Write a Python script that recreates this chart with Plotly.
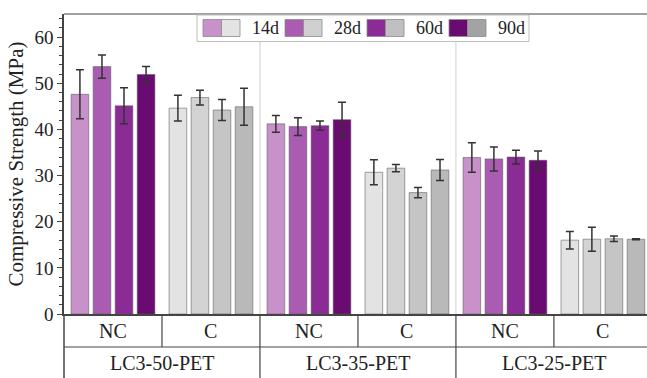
import plotly.graph_objects as go

# ---------------- data ----------------
ages = ["14d", "28d", "60d", "90d"]
groups = ["LC3-50-PET", "LC3-35-PET", "LC3-25-PET"]
conds = ["NC", "C"]

nc_mean = {
    "14d": [47.6, 41.2, 33.9],
    "28d": [53.6, 40.6, 33.6],
    "60d": [45.1, 40.8, 34.0],
    "90d": [51.9, 42.1, 33.3],
}
nc_err = {
    "14d": [5.3, 1.8, 3.2],
    "28d": [2.5, 1.9, 2.6],
    "60d": [3.9, 1.0, 1.5],
    "90d": [1.7, 3.8, 2.0],
}
c_mean = {
    "14d": [44.6, 30.7, 16.0],
    "28d": [46.9, 31.6, 16.2],
    "60d": [44.2, 26.3, 16.3],
    "90d": [44.9, 31.2, 16.2],
}
c_err = {
    "14d": [2.8, 2.7, 1.9],
    "28d": [1.6, 0.8, 2.6],
    "60d": [2.3, 1.1, 0.6],
    "90d": [4.0, 2.3, 0.1],
}

y_ticks = [0, 10, 20, 30, 40, 50, 60]

# ---------------- styles ----------------
purple = {"14d": "#c891c9", "28d": "#a95cb2", "60d": "#8a2b96", "90d": "#690b70"}
gray = {"14d": "#e3e3e3", "28d": "#d3d3d3", "60d": "#c5c5c5", "90d": "#b9b9b9"}
legend_gray = {"14d": "#e3e3e3", "28d": "#d0d0d0", "60d": "#c0c0c0", "90d": "#a3a3a3"}
FONT = "'Liberation Serif', 'Times New Roman', 'DejaVu Serif', serif"
TXT = "#222222"
LINE = "#444444"

nc_cats = [g + "|NC" for g in groups]
c_cats = [g + "|C" for g in groups]
all_cats = []
for g in groups:
    all_cats += [g + "|NC", g + "|C"]

fig = go.Figure()
for a in ages:
    fig.add_trace(go.Bar(
        x=nc_cats, y=nc_mean[a], offsetgroup=a, showlegend=False,
        marker=dict(color=purple[a], line=dict(color="rgba(90,90,90,0.55)", width=1)),
        error_y=dict(type="data", array=nc_err[a], color="#333333", thickness=1.5, width=4),
    ))
    fig.add_trace(go.Bar(
        x=c_cats, y=c_mean[a], offsetgroup=a, showlegend=False,
        marker=dict(color=gray[a], line=dict(color="rgba(90,90,90,0.55)", width=1)),
        error_y=dict(type="data", array=c_err[a], color="#333333", thickness=1.5, width=4),
    ))

W, H = 647, 378
ML, MR, MT, MB = 64, 0, 14, 64
PW, PH = W - ML - MR, H - MT - MB


def px2paper_x(px):
    return (px - ML) / PW


def px2paper_y(py):
    return (H - MB - py) / PH


shapes = []
# separators in plot area between groups (light)
for i in range(1, len(groups)):
    xs = 2 * i - 0.5
    shapes.append(dict(type="line", xref="x", yref="paper", x0=xs, x1=xs, y0=0, y1=1,
                       line=dict(color="#cfcfcf", width=1), layer="below"))
# top frame
shapes.append(dict(type="line", xref="paper", yref="paper", x0=0, x1=1, y0=1, y1=1,
                   line=dict(color=LINE, width=1.2)))

# table below axis
row1 = -33 / PH
row2 = -64 / PH
shapes.append(dict(type="line", xref="paper", yref="paper", x0=0, x1=1, y0=row1, y1=row1,
                   line=dict(color=LINE, width=1.2)))
shapes.append(dict(type="line", xref="paper", yref="paper", x0=0, x1=0, y0=0, y1=row2,
                   line=dict(color=LINE, width=1.5)))
for k in range(1, 2 * len(groups)):
    xs = k - 0.5
    y_end = row2 if k % 2 == 0 else row1
    shapes.append(dict(type="line", xref="x", yref="paper", x0=xs, x1=xs, y0=0, y1=y_end,
                       line=dict(color=LINE, width=1.2)))

annotations = []
for gi, g in enumerate(groups):
    for ci, c in enumerate(conds):
        annotations.append(dict(x=2 * gi + ci, y=(0 + row1) / 2, xref="x", yref="paper",
                                text=c, showarrow=False, font=dict(family=FONT, size=20, color=TXT),
                                yanchor="middle"))
    annotations.append(dict(x=2 * gi + 0.5, y=(row1 + row2) / 2, xref="x", yref="paper",
                            text=g, showarrow=False, font=dict(family=FONT, size=20, color=TXT),
                            yanchor="middle"))

# manual legend (paired swatches)
lb_x0, lb_x1, lb_y0, lb_y1 = 197, 529, 15, 41.5
shapes.append(dict(type="rect", xref="paper", yref="paper",
                   x0=px2paper_x(lb_x0), x1=px2paper_x(lb_x1),
                   y0=px2paper_y(lb_y1), y1=px2paper_y(lb_y0),
                   fillcolor="white", line=dict(color="#bdbdbd", width=1)))
sw_top, sw_bot, sw_w = 19.5, 36.5, 18.5
for i, a in enumerate(ages):
    x0 = 203 + 82 * i
    shapes.append(dict(type="rect", xref="paper", yref="paper",
                       x0=px2paper_x(x0), x1=px2paper_x(x0 + sw_w),
                       y0=px2paper_y(sw_bot), y1=px2paper_y(sw_top),
                       fillcolor=purple[a], line=dict(color="#8a8a8a", width=0.8)))
    shapes.append(dict(type="rect", xref="paper", yref="paper",
                       x0=px2paper_x(x0 + sw_w), x1=px2paper_x(x0 + 2 * sw_w),
                       y0=px2paper_y(sw_bot), y1=px2paper_y(sw_top),
                       fillcolor=legend_gray[a], line=dict(color="#8a8a8a", width=0.8)))
    annotations.append(dict(x=px2paper_x(x0 + 47), y=px2paper_y(28), xref="paper", yref="paper",
                            text=a, showarrow=False, xanchor="left", yanchor="middle",
                            font=dict(family=FONT, size=18, color=TXT)))

fig.update_layout(
    width=W, height=H,
    margin=dict(l=ML, r=MR, t=MT, b=MB),
    paper_bgcolor="white", plot_bgcolor="white",
    barmode="group", bargap=0.10, bargroupgap=0.2,
    shapes=shapes, annotations=annotations,
    showlegend=False,
    font=dict(family=FONT, color=TXT),
)
fig.update_xaxes(type="category", categoryorder="array", categoryarray=all_cats,
                 range=[-0.5, 5.45], showticklabels=False, ticks="", showgrid=False,
                 zeroline=False, showline=True, linecolor=LINE, linewidth=1.5)
fig.update_yaxes(range=[0, 65], tickvals=y_ticks, ticks="outside", ticklen=5,
                 tickwidth=1.2, tickcolor=LINE, showgrid=False, zeroline=False,
                 showline=True, linecolor=LINE, linewidth=1.5,
                 tickfont=dict(family=FONT, size=19, color=TXT),
                 minor=dict(dtick=2, ticks="outside", ticklen=3, tickcolor=LINE, showgrid=False),
                 title=dict(text="Compressive Strength (MPa)", standoff=5,
                            font=dict(family=FONT, size=21, color=TXT)))

fig.write_html("out.html")
